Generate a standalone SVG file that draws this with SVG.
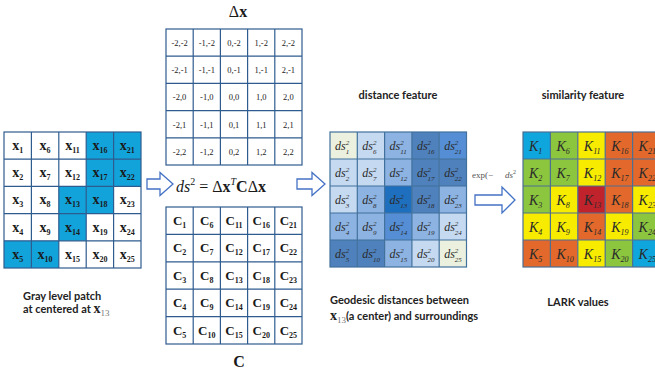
<svg xmlns="http://www.w3.org/2000/svg" width="655" height="375" viewBox="0 0 655 375">
<defs>
<style>
.g{stroke:#2F5C8F;stroke-width:1.2}
.wc{fill:#ffffff}
.bc{fill:#13A3DB}
.xt{font-family:"Liberation Serif",serif;font-weight:bold;font-size:14px;fill:#1a1a1a;text-anchor:middle}
.sub{font-size:8px}
.dx{font-family:"Liberation Serif",serif;font-size:8.5px;fill:#222;text-anchor:middle}
.ct{font-family:"Liberation Serif",serif;font-weight:bold;font-size:13px;fill:#1a1a1a;text-anchor:middle}
.ds{font-family:"Liberation Serif",serif;font-style:italic;font-size:12px;fill:#2a2a2a}
.sm{font-size:7px}
.kt{font-family:"Liberation Serif",serif;font-style:italic;font-size:14px;fill:#2a2a2a}
.lab{font-family:Lato,"Open Sans",sans-serif;font-weight:bold;font-size:11px;fill:#222}
.math{font-family:"Liberation Serif",serif;font-size:16px;fill:#1a1a1a}
.arr{fill:#ffffff;stroke:#4472C4;stroke-width:1.3}
.dg{stroke:#41719C;stroke-width:1.2}
.sg{stroke:#4C6F94;stroke-width:1.2}
.c{fill:#0FA5DD}.gr{fill:#8CC63F}.y{fill:#F7EC00}.o{fill:#E2692B}.r{fill:#C0232C}
</style>
</defs>
<rect width="655" height="375" fill="#ffffff"/>

<!-- Left gray patch grid -->
<g id="patch">
<rect x="4" y="132" width="137" height="136" class="wc"/>
<rect x="86.2" y="132" width="54.8" height="54.4" class="bc"/>
<rect x="58.8" y="186.4" width="54.8" height="27.2" class="bc"/>
<rect x="58.8" y="213.6" width="27.4" height="27.2" class="bc"/>
<rect x="4" y="240.8" width="54.8" height="27.2" class="bc"/>
<g class="g" fill="none">
<rect x="4" y="132" width="137" height="136"/>
<path d="M31.4 132V268M58.8 132V268M86.2 132V268M113.6 132V268M4 159.2H141M4 186.4H141M4 213.6H141M4 240.8H141"/>
</g>
<g class="xt">
<text x="17.7" y="150">x<tspan class="sub" dy="3">1</tspan></text>
<text x="17.7" y="177.2">x<tspan class="sub" dy="3">2</tspan></text>
<text x="17.7" y="204.4">x<tspan class="sub" dy="3">3</tspan></text>
<text x="17.7" y="231.6">x<tspan class="sub" dy="3">4</tspan></text>
<text x="17.7" y="258.8">x<tspan class="sub" dy="3">5</tspan></text>
<text x="45.1" y="150">x<tspan class="sub" dy="3">6</tspan></text>
<text x="45.1" y="177.2">x<tspan class="sub" dy="3">7</tspan></text>
<text x="45.1" y="204.4">x<tspan class="sub" dy="3">8</tspan></text>
<text x="45.1" y="231.6">x<tspan class="sub" dy="3">9</tspan></text>
<text x="45.1" y="258.8">x<tspan class="sub" dy="3">10</tspan></text>
<text x="72.5" y="150">x<tspan class="sub" dy="3">11</tspan></text>
<text x="72.5" y="177.2">x<tspan class="sub" dy="3">12</tspan></text>
<text x="72.5" y="204.4">x<tspan class="sub" dy="3">13</tspan></text>
<text x="72.5" y="231.6">x<tspan class="sub" dy="3">14</tspan></text>
<text x="72.5" y="258.8">x<tspan class="sub" dy="3">15</tspan></text>
<text x="99.9" y="150">x<tspan class="sub" dy="3">16</tspan></text>
<text x="99.9" y="177.2">x<tspan class="sub" dy="3">17</tspan></text>
<text x="99.9" y="204.4">x<tspan class="sub" dy="3">18</tspan></text>
<text x="99.9" y="231.6">x<tspan class="sub" dy="3">19</tspan></text>
<text x="99.9" y="258.8">x<tspan class="sub" dy="3">20</tspan></text>
<text x="127.3" y="150">x<tspan class="sub" dy="3">21</tspan></text>
<text x="127.3" y="177.2">x<tspan class="sub" dy="3">22</tspan></text>
<text x="127.3" y="204.4">x<tspan class="sub" dy="3">23</tspan></text>
<text x="127.3" y="231.6">x<tspan class="sub" dy="3">24</tspan></text>
<text x="127.3" y="258.8">x<tspan class="sub" dy="3">25</tspan></text>
</g>
<text class="lab" x="23" y="300">Gray level patch</text>
<text class="lab" x="23" y="313">at centered at <tspan font-family="Liberation Serif,serif" font-size="14px">x</tspan><tspan font-family="Liberation Serif,serif" font-weight="normal" font-size="9px" fill="#777" dy="3">13</tspan></text>
</g>

<!-- Delta x grid -->
<g id="deltax">
<text class="math" x="238" y="17" text-anchor="middle" font-size="15px">Δ<tspan font-weight="bold">x</tspan></text>
<rect x="166" y="29" width="136" height="136" fill="#fff"/>
<g class="g" fill="none">
<rect x="166" y="29" width="136" height="136"/>
<path d="M193.2 29V165M220.4 29V165M247.6 29V165M274.8 29V165M166 56.2H302M166 83.4H302M166 110.6H302M166 137.8H302"/>
</g>
<g class="dx">
<text x="179.6" y="46">-2,-2</text><text x="206.8" y="46">-1,-2</text><text x="234" y="46">0,-2</text><text x="261.2" y="46">1,-2</text><text x="288.4" y="46">2,-2</text>
<text x="179.6" y="73.2">-2,-1</text><text x="206.8" y="73.2">-1,-1</text><text x="234" y="73.2">0,-1</text><text x="261.2" y="73.2">1,-1</text><text x="288.4" y="73.2">2,-1</text>
<text x="179.6" y="100.4">-2,0</text><text x="206.8" y="100.4">-1,0</text><text x="234" y="100.4">0,0</text><text x="261.2" y="100.4">1,0</text><text x="288.4" y="100.4">2,0</text>
<text x="179.6" y="127.6">-2,1</text><text x="206.8" y="127.6">-1,1</text><text x="234" y="127.6">0,1</text><text x="261.2" y="127.6">1,1</text><text x="288.4" y="127.6">2,1</text>
<text x="179.6" y="154.8">-2,2</text><text x="206.8" y="154.8">-1,2</text><text x="234" y="154.8">0,2</text><text x="261.2" y="154.8">1,2</text><text x="288.4" y="154.8">2,2</text>
</g>
</g>

<!-- Equation -->
<g id="equation">
<text class="math" x="176" y="192"><tspan font-style="italic">ds</tspan><tspan font-size="10px" dy="-7">2</tspan><tspan dy="7"> = Δ</tspan><tspan font-weight="bold">x</tspan><tspan font-style="italic" font-size="10px" dy="-7">T</tspan><tspan font-weight="bold" dy="7">C</tspan>Δ<tspan font-weight="bold">x</tspan></text>
</g>

<!-- C grid -->
<g id="cgrid">
<rect x="166" y="207" width="136" height="137" fill="#fff"/>
<g class="g" fill="none">
<rect x="166" y="207" width="136" height="137"/>
<path d="M193.2 207V344M220.4 207V344M247.6 207V344M274.8 207V344M166 234.4H302M166 261.8H302M166 289.2H302M166 316.6H302"/>
</g>
<g class="ct">
<text x="179.6" y="225">C<tspan class="sub" dy="3">1</tspan></text>
<text x="179.6" y="252.4">C<tspan class="sub" dy="3">2</tspan></text>
<text x="179.6" y="279.8">C<tspan class="sub" dy="3">3</tspan></text>
<text x="179.6" y="307.2">C<tspan class="sub" dy="3">4</tspan></text>
<text x="179.6" y="334.6">C<tspan class="sub" dy="3">5</tspan></text>
<text x="206.8" y="225">C<tspan class="sub" dy="3">6</tspan></text>
<text x="206.8" y="252.4">C<tspan class="sub" dy="3">7</tspan></text>
<text x="206.8" y="279.8">C<tspan class="sub" dy="3">8</tspan></text>
<text x="206.8" y="307.2">C<tspan class="sub" dy="3">9</tspan></text>
<text x="206.8" y="334.6">C<tspan class="sub" dy="3">10</tspan></text>
<text x="234" y="225">C<tspan class="sub" dy="3">11</tspan></text>
<text x="234" y="252.4">C<tspan class="sub" dy="3">12</tspan></text>
<text x="234" y="279.8">C<tspan class="sub" dy="3">13</tspan></text>
<text x="234" y="307.2">C<tspan class="sub" dy="3">14</tspan></text>
<text x="234" y="334.6">C<tspan class="sub" dy="3">15</tspan></text>
<text x="261.2" y="225">C<tspan class="sub" dy="3">16</tspan></text>
<text x="261.2" y="252.4">C<tspan class="sub" dy="3">17</tspan></text>
<text x="261.2" y="279.8">C<tspan class="sub" dy="3">18</tspan></text>
<text x="261.2" y="307.2">C<tspan class="sub" dy="3">19</tspan></text>
<text x="261.2" y="334.6">C<tspan class="sub" dy="3">20</tspan></text>
<text x="288.4" y="225">C<tspan class="sub" dy="3">21</tspan></text>
<text x="288.4" y="252.4">C<tspan class="sub" dy="3">22</tspan></text>
<text x="288.4" y="279.8">C<tspan class="sub" dy="3">23</tspan></text>
<text x="288.4" y="307.2">C<tspan class="sub" dy="3">24</tspan></text>
<text x="288.4" y="334.6">C<tspan class="sub" dy="3">25</tspan></text>
</g>
<text class="math" x="239" y="367" text-anchor="middle" font-weight="bold">C</text>
</g>

<!-- Distance feature grid -->
<g id="distance">
<text class="lab" x="398" y="99" text-anchor="middle">distance feature</text>
<rect x="330" y="132" width="27.3" height="27" fill="#EBF1DE"/><rect x="357.3" y="132" width="27.3" height="27" fill="#C5D9F1"/><rect x="384.6" y="132" width="27.3" height="27" fill="#8DB3E2"/><rect x="411.9" y="132" width="27.3" height="27" fill="#4F81BD"/><rect x="439.2" y="132" width="27.3" height="27" fill="#558ED5"/>
<rect x="330" y="159" width="27.3" height="27" fill="#C5D9F1"/><rect x="357.3" y="159" width="27.3" height="27" fill="#C5D9F1"/><rect x="384.6" y="159" width="27.3" height="27" fill="#8DB3E2"/><rect x="411.9" y="159" width="27.3" height="27" fill="#4F81BD"/><rect x="439.2" y="159" width="27.3" height="27" fill="#4F81BD"/>
<rect x="330" y="186" width="27.3" height="27" fill="#C5D9F1"/><rect x="357.3" y="186" width="27.3" height="27" fill="#8DB3E2"/><rect x="384.6" y="186" width="27.3" height="27" fill="#1F6FBF"/><rect x="411.9" y="186" width="27.3" height="27" fill="#4F81BD"/><rect x="439.2" y="186" width="27.3" height="27" fill="#8DB3E2"/>
<rect x="330" y="213" width="27.3" height="27" fill="#8DB3E2"/><rect x="357.3" y="213" width="27.3" height="27" fill="#8DB3E2"/><rect x="384.6" y="213" width="27.3" height="27" fill="#558ED5"/><rect x="411.9" y="213" width="27.3" height="27" fill="#8DB3E2"/><rect x="439.2" y="213" width="27.3" height="27" fill="#C5D9F1"/>
<rect x="330" y="240" width="27.3" height="27" fill="#4F81BD"/><rect x="357.3" y="240" width="27.3" height="27" fill="#4F81BD"/><rect x="384.6" y="240" width="27.3" height="27" fill="#8DB3E2"/><rect x="411.9" y="240" width="27.3" height="27" fill="#C5D9F1"/><rect x="439.2" y="240" width="27.3" height="27" fill="#EBF1DE"/>
<g class="dg" fill="none">
<rect x="330" y="132" width="136.5" height="135"/>
<path d="M357.3 132V267M384.6 132V267M411.9 132V267M439.2 132V267M330 159H466.5M330 186H466.5M330 213H466.5M330 240H466.5"/>
</g>
<g class="ds">
<text x="335" y="150">ds<tspan class="sm" dy="-5">2</tspan><tspan class="sm" dx="-3.5" dy="9">1</tspan></text>
<text x="335" y="177">ds<tspan class="sm" dy="-5">2</tspan><tspan class="sm" dx="-3.5" dy="9">2</tspan></text>
<text x="335" y="204">ds<tspan class="sm" dy="-5">2</tspan><tspan class="sm" dx="-3.5" dy="9">3</tspan></text>
<text x="335" y="231">ds<tspan class="sm" dy="-5">2</tspan><tspan class="sm" dx="-3.5" dy="9">4</tspan></text>
<text x="335" y="258">ds<tspan class="sm" dy="-5">2</tspan><tspan class="sm" dx="-3.5" dy="9">5</tspan></text>
<text x="362.3" y="150">ds<tspan class="sm" dy="-5">2</tspan><tspan class="sm" dx="-3.5" dy="9">6</tspan></text>
<text x="362.3" y="177">ds<tspan class="sm" dy="-5">2</tspan><tspan class="sm" dx="-3.5" dy="9">7</tspan></text>
<text x="362.3" y="204">ds<tspan class="sm" dy="-5">2</tspan><tspan class="sm" dx="-3.5" dy="9">8</tspan></text>
<text x="362.3" y="231">ds<tspan class="sm" dy="-5">2</tspan><tspan class="sm" dx="-3.5" dy="9">9</tspan></text>
<text x="362.3" y="258">ds<tspan class="sm" dy="-5">2</tspan><tspan class="sm" dx="-3.5" dy="9">10</tspan></text>
<text x="389.6" y="150">ds<tspan class="sm" dy="-5">2</tspan><tspan class="sm" dx="-3.5" dy="9">11</tspan></text>
<text x="389.6" y="177">ds<tspan class="sm" dy="-5">2</tspan><tspan class="sm" dx="-3.5" dy="9">12</tspan></text>
<text x="389.6" y="204">ds<tspan class="sm" dy="-5">2</tspan><tspan class="sm" dx="-3.5" dy="9">13</tspan></text>
<text x="389.6" y="231">ds<tspan class="sm" dy="-5">2</tspan><tspan class="sm" dx="-3.5" dy="9">14</tspan></text>
<text x="389.6" y="258">ds<tspan class="sm" dy="-5">2</tspan><tspan class="sm" dx="-3.5" dy="9">15</tspan></text>
<text x="416.9" y="150">ds<tspan class="sm" dy="-5">2</tspan><tspan class="sm" dx="-3.5" dy="9">16</tspan></text>
<text x="416.9" y="177">ds<tspan class="sm" dy="-5">2</tspan><tspan class="sm" dx="-3.5" dy="9">17</tspan></text>
<text x="416.9" y="204">ds<tspan class="sm" dy="-5">2</tspan><tspan class="sm" dx="-3.5" dy="9">18</tspan></text>
<text x="416.9" y="231">ds<tspan class="sm" dy="-5">2</tspan><tspan class="sm" dx="-3.5" dy="9">19</tspan></text>
<text x="416.9" y="258">ds<tspan class="sm" dy="-5">2</tspan><tspan class="sm" dx="-3.5" dy="9">20</tspan></text>
<text x="444.2" y="150">ds<tspan class="sm" dy="-5">2</tspan><tspan class="sm" dx="-3.5" dy="9">21</tspan></text>
<text x="444.2" y="177">ds<tspan class="sm" dy="-5">2</tspan><tspan class="sm" dx="-3.5" dy="9">22</tspan></text>
<text x="444.2" y="204">ds<tspan class="sm" dy="-5">2</tspan><tspan class="sm" dx="-3.5" dy="9">23</tspan></text>
<text x="444.2" y="231">ds<tspan class="sm" dy="-5">2</tspan><tspan class="sm" dx="-3.5" dy="9">24</tspan></text>
<text x="444.2" y="258">ds<tspan class="sm" dy="-5">2</tspan><tspan class="sm" dx="-3.5" dy="9">25</tspan></text>
</g>
<text class="lab" x="330" y="304">Geodesic distances between</text>
<text class="lab" x="330" y="320"><tspan font-family="Liberation Serif,serif" font-size="14px">x</tspan><tspan font-family="Liberation Serif,serif" font-weight="normal" font-size="9px" fill="#777" dy="3">13</tspan><tspan dy="-3">(a center) and surroundings</tspan></text>
</g>

<!-- Connectors -->
<g id="connectors">
<path class="arr" d="M147 179H160V172.5L173 184L160 195.5V189H147Z"/>
<path class="arr" d="M297 179H312V172.5L325 184L312 195.5V189H297Z"/>
<path class="arr" d="M475 195H502V187L515 200L502 213V205H475Z"/>
<text x="472" y="178" font-family="Liberation Serif,serif" font-size="9px" fill="#555">exp(−<tspan x="505" font-style="italic">ds</tspan><tspan font-size="6px" dy="-4">2</tspan></text>
</g>

<!-- Similarity feature grid -->
<g id="similarity">
<text class="lab" x="583" y="99" text-anchor="middle">similarity feature</text>
<rect x="523" y="132" width="27.4" height="27" class="c"/><rect x="550.4" y="132" width="27.4" height="27" class="gr"/><rect x="577.8" y="132" width="27.4" height="27" class="y"/><rect x="605.2" y="132" width="27.4" height="27" class="o"/><rect x="632.6" y="132" width="27.4" height="27" class="o"/>
<rect x="523" y="159" width="27.4" height="27" class="gr"/><rect x="550.4" y="159" width="27.4" height="27" class="gr"/><rect x="577.8" y="159" width="27.4" height="27" class="y"/><rect x="605.2" y="159" width="27.4" height="27" class="o"/><rect x="632.6" y="159" width="27.4" height="27" class="o"/>
<rect x="523" y="186" width="27.4" height="27" class="gr"/><rect x="550.4" y="186" width="27.4" height="27" class="y"/><rect x="577.8" y="186" width="27.4" height="27" class="r"/><rect x="605.2" y="186" width="27.4" height="27" class="o"/><rect x="632.6" y="186" width="27.4" height="27" class="y"/>
<rect x="523" y="213" width="27.4" height="27" class="y"/><rect x="550.4" y="213" width="27.4" height="27" class="y"/><rect x="577.8" y="213" width="27.4" height="27" class="o"/><rect x="605.2" y="213" width="27.4" height="27" class="y"/><rect x="632.6" y="213" width="27.4" height="27" class="gr"/>
<rect x="523" y="240" width="27.4" height="27" class="o"/><rect x="550.4" y="240" width="27.4" height="27" class="o"/><rect x="577.8" y="240" width="27.4" height="27" class="y"/><rect x="605.2" y="240" width="27.4" height="27" class="gr"/><rect x="632.6" y="240" width="27.4" height="27" class="c"/>
<g class="sg" fill="none">
<rect x="523" y="132" width="137" height="135"/>
<path d="M550.4 132V267M577.8 132V267M605.2 132V267M632.6 132V267M523 159H660M523 186H660M523 213H660M523 240H660"/>
</g>
<g class="kt">
<text x="529" y="151">K<tspan class="sub" dy="3">1</tspan></text>
<text x="529" y="178">K<tspan class="sub" dy="3">2</tspan></text>
<text x="529" y="205">K<tspan class="sub" dy="3">3</tspan></text>
<text x="529" y="232">K<tspan class="sub" dy="3">4</tspan></text>
<text x="529" y="259">K<tspan class="sub" dy="3">5</tspan></text>
<text x="556.4" y="151">K<tspan class="sub" dy="3">6</tspan></text>
<text x="556.4" y="178">K<tspan class="sub" dy="3">7</tspan></text>
<text x="556.4" y="205">K<tspan class="sub" dy="3">8</tspan></text>
<text x="556.4" y="232">K<tspan class="sub" dy="3">9</tspan></text>
<text x="556.4" y="259">K<tspan class="sub" dy="3">10</tspan></text>
<text x="583.8" y="151">K<tspan class="sub" dy="3">11</tspan></text>
<text x="583.8" y="178">K<tspan class="sub" dy="3">12</tspan></text>
<text x="583.8" y="205">K<tspan class="sub" dy="3">13</tspan></text>
<text x="583.8" y="232">K<tspan class="sub" dy="3">14</tspan></text>
<text x="583.8" y="259">K<tspan class="sub" dy="3">15</tspan></text>
<text x="611.2" y="151">K<tspan class="sub" dy="3">16</tspan></text>
<text x="611.2" y="178">K<tspan class="sub" dy="3">17</tspan></text>
<text x="611.2" y="205">K<tspan class="sub" dy="3">18</tspan></text>
<text x="611.2" y="232">K<tspan class="sub" dy="3">19</tspan></text>
<text x="611.2" y="259">K<tspan class="sub" dy="3">20</tspan></text>
<text x="638.6" y="151">K<tspan class="sub" dy="3">21</tspan></text>
<text x="638.6" y="178">K<tspan class="sub" dy="3">22</tspan></text>
<text x="638.6" y="205">K<tspan class="sub" dy="3">23</tspan></text>
<text x="638.6" y="232">K<tspan class="sub" dy="3">24</tspan></text>
<text x="638.6" y="259">K<tspan class="sub" dy="3">25</tspan></text>
</g>
<text class="lab" x="578" y="306" text-anchor="middle" font-size="12px">LARK values</text>
</g>
</svg>
